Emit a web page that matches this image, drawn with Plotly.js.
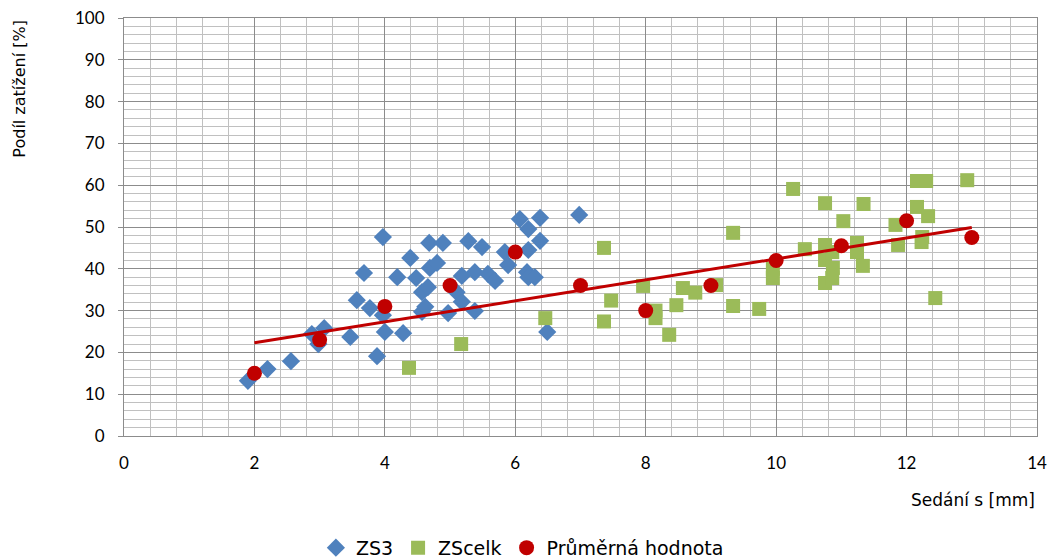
<!DOCTYPE html>
<html>
<head>
<meta charset="utf-8">
<script src="https://cdn.plot.ly/plotly-3.0.1.min.js"></script>
<style>html,body{margin:0;padding:0;background:#fff;}#chart{width:1049px;height:559px;}</style>
</head>
<body>
<div id="chart"></div>
<script>
// ZS3 series
var zs3X = [1.9,2.2,2.56,2.88,3.07,2.98,3.47,3.57,3.68,3.77,3.88,3.97,3.97,4.0,4.19,4.28,4.39,4.48,4.57,4.57,4.62,4.66,4.69,4.68,4.8,4.89,4.97,5.1,5.18,5.18,5.28,5.38,5.38,5.49,5.58,5.69,5.84,5.89,6.07,6.2,6.2,6.18,6.2,6.3,6.38,6.38,6.49,6.98];
var zs3Y = [13.2,16,17.9,24.4,25.8,22,23.7,32.5,39,30.6,19.1,47.6,28.9,24.9,38,24.6,42.6,37.8,34.4,29.7,30.9,35.6,40.2,46.2,41.4,46.2,29.4,34.4,32.1,38.3,46.6,39.2,29.9,45.2,38.8,37.1,44.0,40.9,51.9,49.5,44.5,39.2,38,38,52.2,46.7,24.9,52.9];
// ZScelk series
var zscX = [4.37,5.17,6.46,7.36,7.36,7.47,7.96,8.15,8.15,8.36,8.47,8.57,8.76,9.08,9.34,9.34,9.74,9.95,9.95,10.26,10.44,10.75,10.75,10.75,10.75,10.86,10.87,10.86,11.03,11.24,11.24,11.34,11.33,11.83,11.87,12.16,12.16,12.3,12.33,12.24,12.23,12.44,12.93];
var zscY = [16.3,22,28.2,45,27.4,32.4,35.9,30,28.2,24.2,31.3,35.4,34.3,36.1,48.6,31.1,30.4,40,37.8,59.1,44.7,55.7,45.7,42.1,36.6,44,40.2,37.8,51.4,46.2,44,55.5,40.7,50.5,45.7,54.8,61,61,52.6,47.6,46.4,33,61.2];
// Průměrná hodnota (means)
var meanX = [2,3,4,5,6,7,8,9,10,11,12,13];
var meanY = [15,23,31,36,44,36,30,36,42,45.5,51.5,47.5];
// trend line end points
var trendX = [2,13];
var trendY = [22.3,49.9];

var traces = [
  {x: zs3X, y: zs3Y, name: 'ZS3', mode: 'markers', type: 'scatter',
   marker: {symbol: 'diamond', size: 14, color: '#4F81BD'}},
  {x: zscX, y: zscY, name: 'ZScelk', mode: 'markers', type: 'scatter',
   marker: {symbol: 'square', size: 14, color: '#9BBB59'}},
  {x: trendX, y: trendY, mode: 'lines', type: 'scatter', showlegend: false,
   line: {color: '#C00000', width: 3}, hoverinfo: 'skip'},
  {x: meanX, y: meanY, name: 'Průměrná hodnota', mode: 'markers', type: 'scatter',
   marker: {symbol: 'circle', size: 15, color: '#C00000'}}
];

var layout = {
  width: 1049, height: 559,
  margin: {l: 124, r: 12, t: 18, b: 123, autoexpand: false},
  paper_bgcolor: '#fff', plot_bgcolor: '#fff',
  font: {family: 'Lato, "Open Sans", sans-serif', size: 17, color: '#000'},
  showlegend: true,
  legend: {orientation: 'h', xref: 'container', yref: 'container', x: 0.498, xanchor: 'center',
           y: 0.02, yanchor: 'middle',
           font: {family: '"DejaVu Sans", sans-serif', size: 19}, itemwidth: 30, tracegroupgap: 0},
  xaxis: {range: [0, 14], dtick: 2, tick0: 0, showgrid: true, gridcolor: '#8c8c8c', gridwidth: 1,
          minor: {dtick: 0.4, showgrid: true, gridcolor: '#c0c0c0', gridwidth: 1},
          showline: true, linecolor: '#8c8c8c', linewidth: 1, mirror: true,
          ticks: '', zeroline: false, fixedrange: true, automargin: false,
          tickfont: {family: 'Lato, sans-serif', size: 17}, ticklabelstandoff: 12},
  yaxis: {range: [0, 100], dtick: 10, tick0: 0, showgrid: true, gridcolor: '#8c8c8c', gridwidth: 1,
          minor: {dtick: 2, showgrid: true, gridcolor: '#c0c0c0', gridwidth: 1},
          showline: true, linecolor: '#8c8c8c', linewidth: 1, mirror: true,
          ticks: 'outside', ticklen: 5, tickcolor: '#8c8c8c', zeroline: false, fixedrange: true, automargin: false,
          tickfont: {family: 'Lato, sans-serif', size: 17}, ticklabelstandoff: 10},
  annotations: [
    {text: 'Sedání s [mm]', xref: 'paper', yref: 'paper', x: 1.0, y: -0.125, xanchor: 'right', yanchor: 'top',
     showarrow: false, font: {family: '"DejaVu Sans", sans-serif', size: 17}},
    {text: 'Podíl zatížení [%]', xref: 'paper', yref: 'paper', x: -0.128, y: 1.0, xanchor: 'left', yanchor: 'top',
     textangle: -90, showarrow: false, font: {family: '"DejaVu Sans", sans-serif', size: 16}}
  ]
};

Plotly.newPlot('chart', traces, layout, {displayModeBar: false, staticPlot: true});
</script>
</body>
</html>
